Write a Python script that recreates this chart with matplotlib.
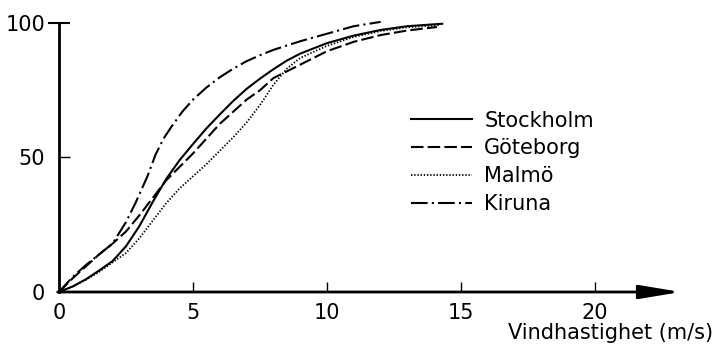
import matplotlib
matplotlib.use("Agg")
import matplotlib.pyplot as plt

# vindhastighet (m/s) och kumulativ andel (%) per ort
sthlm_x = [0, 0.5, 1, 1.5, 2, 2.5, 3, 3.5, 4, 4.5, 5, 5.5, 6, 6.5, 7, 7.5, 8, 8.5, 9, 10, 11, 12, 13, 14.3]
sthlm_y = [0, 2, 4.7, 8, 11.5, 17, 24.5, 33.5, 42, 49, 55, 60.8, 66, 71, 75.5, 79.3, 82.8, 86, 88.6, 92.5, 95.3, 97.4, 98.8, 99.7]

gbg_x = [0, 0.5, 1, 1.5, 2, 2.5, 3, 3.5, 4, 4.5, 5, 5.5, 6, 6.5, 7, 7.5, 8, 8.5, 9, 10, 11, 12, 13, 14.1]
gbg_y = [0, 5, 9.5, 14, 18, 22.5, 28.5, 35, 41.5, 46.5, 51.5, 57, 62.5, 67, 71.5, 75, 79.5, 82, 84.5, 89.5, 93, 95.5, 97.2, 98.5]

malmo_x = [0, 0.5, 1, 1.5, 2, 2.5, 3, 3.5, 4, 4.5, 5, 5.5, 6, 6.5, 7, 7.5, 8, 8.5, 9, 10, 11, 12, 13, 14.2]
malmo_y = [0, 2, 4.5, 7.5, 11, 14.5, 20, 26.5, 33, 38.5, 43, 47.5, 52.5, 57.5, 63, 69.5, 77, 83, 87, 91.5, 94.8, 97, 98.4, 99.2]

kiruna_x = [0, 0.5, 1, 1.5, 2, 2.5, 2.85, 3.3, 3.6, 3.9, 4.2, 4.6, 5, 5.5, 6, 6.5, 7, 7.5, 8, 9, 10, 11, 12]
kiruna_y = [0, 5.5, 10, 14, 18, 26, 33, 43, 51, 57, 61.5, 67, 71.5, 76, 79.8, 83, 85.8, 88, 90, 93.2, 96, 98.8, 100.4]

orter = ["Stockholm", "Göteborg", "Malmö", "Kiruna"]
x_ticks = [0, 5, 10, 15, 20]
y_ticks = [0, 50, 100]

plt.rcParams["font.family"] = "DejaVu Sans"
plt.rcParams["font.size"] = 15
plt.rcParams["lines.scale_dashes"] = False

fig = plt.figure(figsize=(7.15, 3.48), dpi=100)
ax = fig.add_axes([59 / 715, 56 / 348, 643.2 / 715, 279.8 / 348])
ax.set_xlim(0, 24)
ax.set_ylim(0, 104)

lw = 1.5
ax.plot(sthlm_x, sthlm_y, color="black", lw=lw, ls="-", label=orter[0], clip_on=False)
ax.plot(gbg_x, gbg_y, color="black", lw=lw, ls=(0, (9, 3)), label=orter[1], clip_on=False)
ax.plot(malmo_x, malmo_y, color="black", lw=1.3, ls=(0, (1, 1.3)), label=orter[2], clip_on=False)
ax.plot(kiruna_x, kiruna_y, color="black", lw=lw, ls=(0, (12, 3, 1.5, 3)), label=orter[3], clip_on=False)

# axlar: y-axel slutar vid 100, x-axel med pil
for s in ["top", "right", "bottom"]:
    ax.spines[s].set_visible(False)
ax.spines["left"].set_bounds(0, 100)
ax.spines["left"].set_linewidth(2)
ax.annotate("", xy=(23.2, 0), xytext=(-0.05, 0), xycoords="data",
            arrowprops=dict(arrowstyle="-|>,head_length=1.8,head_width=0.3",
                            mutation_scale=14, lw=2, color="black",
                            shrinkA=0, shrinkB=0), annotation_clip=False)

ax.set_xticks(x_ticks)
ax.set_yticks(y_ticks)
ax.tick_params(axis="x", direction="in", length=7, width=1, pad=8)
ax.tick_params(axis="y", direction="in", length=8, width=1, pad=10)
ax.xaxis.get_major_ticks()[0].tick1line.set_visible(False)
ax.yaxis.get_major_ticks()[0].tick1line.set_visible(False)
# 100-strecket går ut på båda sidor
ax.yaxis.remove_overlapping_locs = False
ax.set_yticks([100], minor=True)
ax.tick_params(axis="y", which="minor", direction="out", length=8, width=1.5, labelleft=False)
ax.yaxis.get_major_ticks()[2].tick1line.set_markeredgewidth(1.5)

ax.set_xlabel("Vindhastighet (m/s)", ha="right", va="center")
ax.xaxis.set_label_coords(1.017, -0.1465)

ax.legend(loc="upper left", bbox_to_anchor=(0.5476, 0.648), frameon=False,
          handlelength=2.9, handletextpad=0.6, labelspacing=0.37,
          borderaxespad=0, borderpad=0)

fig.savefig("out.png", dpi=100)
